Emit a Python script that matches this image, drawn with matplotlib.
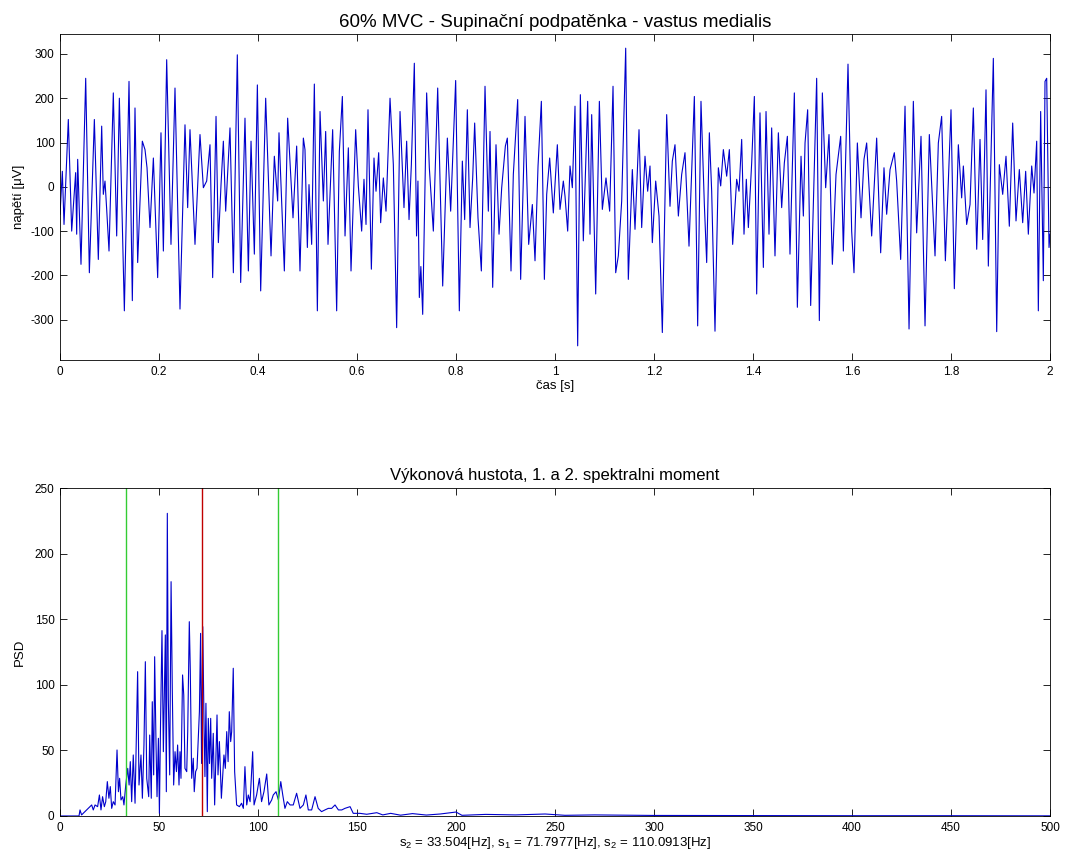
import numpy as np
import matplotlib
matplotlib.use("Agg")
import matplotlib.pyplot as plt

plt.rcParams['font.family'] = ['Liberation Sans', 'DejaVu Sans']
plt.rcParams['mathtext.fontset'] = 'custom'
plt.rcParams['mathtext.rm'] = 'Liberation Sans'
plt.rcParams['mathtext.it'] = 'Liberation Sans'
plt.rcParams['axes.unicode_minus'] = False

# EMG signal, peaks and troughs (time [s], voltage [uV])
sig_pts = [
    (0.000, -62), (0.0047, 35), (0.0081, -85), (0.0168, 152), (0.0236, -100), (0.0316, 32),
    (0.0337, -107), (0.0357, 62), (0.0424, -175), (0.0519, 245), (0.0593, -194), (0.0694, 152),
    (0.0774, -164), (0.0842, 137), (0.0875, -17), (0.0909, 13), (0.0943, -51), (0.0990, -145),
    (0.1077, 212), (0.1145, -111), (0.1199, 200), (0.1300, -280), (0.1394, 238), (0.1461, -257),
    (0.1515, 178), (0.1569, -171), (0.1663, 103), (0.1717, 84), (0.1758, 43), (0.1818, -92),
    (0.1886, 65), (0.1973, -205), (0.2040, 122), (0.2088, -145), (0.2155, 287), (0.2242, -130),
    (0.2323, 223), (0.2424, -276), (0.2525, 140), (0.2579, -47), (0.2626, 129), (0.2727, -130),
    (0.2828, 118), (0.2896, -2), (0.2963, 13), (0.3030, 95), (0.3084, -205), (0.3152, 159),
    (0.3199, -126), (0.3253, 5), (0.3300, 103), (0.3347, -55), (0.3434, 133), (0.3502, -194),
    (0.3582, 298), (0.3650, -216), (0.3737, 155), (0.3805, -190), (0.3859, 103), (0.3926, -152),
    (0.3987, 230), (0.4054, -235), (0.4155, 200), (0.4263, -156), (0.4330, 69), (0.4397, -32),
    (0.4424, 122), (0.4532, -190), (0.4599, 155), (0.4707, -70), (0.4781, 92), (0.4848, -190),
    (0.4916, 110),
    (0.4949, 84), (0.4997, -137), (0.5030, 5), (0.5084, -130), (0.5138, 232), (0.5199, -280),
    (0.5253, 170), (0.5320, -32), (0.5367, 125), (0.5414, -130), (0.5508, 129), (0.5589, -280),
    (0.5643, 80), (0.5704, 204), (0.5758, -111), (0.5825, 88), (0.5879, -190), (0.5973, 129),
    (0.6027, 2), (0.6094, -100), (0.6141, 17), (0.6182, -85), (0.6222, 174), (0.6290, -186),
    (0.6343, 65), (0.6384, -10), (0.6438, 77), (0.6478, -81), (0.6532, 20), (0.6586, -55),
    (0.6667, 200), (0.6734, 50), (0.6801, -318), (0.6869, 170), (0.6949, -47), (0.7003, 103),
    (0.7051, -74), (0.7098, 50), (0.7158, 279), (0.7203, -111), (0.7231, 13), (0.7259, -250),
    (0.7290, -180), (0.7327, -288), (0.7407, 212), (0.7461, 43), (0.7542, -100), (0.7630, 223),
    (0.7731, -224), (0.7825, 110), (0.7892, -55), (0.7993, 240), (0.8067, -280), (0.8128, 58),
    (0.8175, -74), (0.8229, 174), (0.8283, -92), (0.8337, 20), (0.8377, 144), (0.8444, -70),
    (0.8512, -190), (0.8586, 227), (0.8653, -55), (0.8687, 125), (0.8741, -227), (0.8808, 95),
    (0.8869, -107), (0.8923, -2), (0.8997, 92), (0.9037, 110), (0.9111, -190), (0.9158, 28),
    (0.9246, 197), (0.9306, -209), (0.9394, 159), (0.9468, -130), (0.9542, -40), (0.9596, -167),
    (0.9657, 47), (0.9724, 193), (0.9785, -209),
    (0.9832, -17), (0.9892, 65), (0.9966, -59), (1.0047, 95), (1.0101, -51), (1.0168, 13),
    (1.0202, -21), (1.0256, -100), (1.0303, 47), (1.0350, -2), (1.0404, 182), (1.0458, -359),
    (1.0512, 208), (1.0572, -122), (1.0660, 193), (1.0707, -107), (1.0741, 163), (1.0822, -242),
    (1.0896, 193), (1.0956, -51), (1.1030, 20), (1.1104, -55), (1.1172, 227), (1.1226, -194),
    (1.1279, -156), (1.1347, -32), (1.1428, 313), (1.1481, -209), (1.1562, 39), (1.1616, -96),
    (1.1697, 129), (1.1751, -92), (1.1818, 69), (1.1872, -10), (1.1919, 47), (1.1966, -126),
    (1.2034, 13), (1.2101, -66), (1.2168, -329), (1.2256, 163), (1.2323, -44), (1.2370, 58),
    (1.2424, 95), (1.2492, -66), (1.2559, 28), (1.2626, 77), (1.2707, -134), (1.2815, 204),
    (1.2882, -314), (1.2949, 193), (1.3017, -40), (1.3064, -171), (1.3118, 122), (1.3165, -10),
    (1.3232, -326), (1.3300, 43), (1.3347, 2), (1.3401, 84), (1.3468, 24), (1.3522, 84),
    (1.3589, -130), (1.3670, 17), (1.3717, -10), (1.3771, 107), (1.3818, -107), (1.3865, 17),
    (1.3906, -92), (1.3973, 54), (1.4027, 204), (1.4074, -242), (1.4141, 167), (1.4209, -182),
    (1.4263, 170), (1.4323, -107), (1.4377, 133), (1.4444, -156), (1.4512, 122), (1.4579, -47),
    (1.4633, 54), (1.4694, 114), (1.4747, -152), (1.4835, 212),
    (1.4896, -272), (1.4970, 69), (1.5017, -66), (1.5051, 99), (1.5104, 174), (1.5165, -268),
    (1.5286, 245), (1.5340, -302), (1.5401, 212), (1.5468, -2), (1.5535, 118), (1.5603, -175),
    (1.5677, 28), (1.5771, 114), (1.5825, -145), (1.5919, 277), (1.5993, -100), (1.6040, -194),
    (1.6108, 99), (1.6182, -70), (1.6242, 62), (1.6296, 99), (1.6397, -111), (1.6498, 110),
    (1.6579, -149), (1.6646, 43), (1.6700, -62), (1.6768, 39), (1.6855, 77), (1.6902, 13),
    (1.6983, -164), (1.7071, 182), (1.7152, -321), (1.7239, 193), (1.7306, -104), (1.7394, 114),
    (1.7475, -314), (1.7562, 118), (1.7677, -156), (1.7744, 99), (1.7811, 159), (1.7886, -167),
    (1.8000, 174), (1.8067, -230), (1.8148, 95), (1.8215, -25), (1.8249, 47), (1.8316, -85),
    (1.8384, -40), (1.8451, 178), (1.8519, -141), (1.8586, 107), (1.8640, -119), (1.8707, 219),
    (1.8754, -179), (1.8855, 290), (1.8923, -327), (1.8976, 50), (1.9044, -17), (1.9111, 69),
    (1.9178, -89), (1.9246, 144), (1.9313, -77), (1.9380, 39), (1.9448, -81), (1.9508, 35),
    (1.9562, -107), (1.9630, 47), (1.9677, -14), (1.9731, 103), (1.9764, -280), (1.9811, 170),
    (1.9865, -212), (1.9899, 238), (1.9933, 245), (1.9980, -137), (2.0000, -107),
]

# power spectral density (frequency [Hz], PSD)
psd_pts = [
    (0, 0), (9.6, 0), (10.1, 4.6), (10.9, 0.8), (12.6, 3.3), (14.3, 5.8), (16.0, 8.4), (16.8, 4.6),
    (17.7, 8.4), (19.0, 7.1), (19.9, 16), (20.7, 4.6), (21.5, 14.7), (22.4, 7.1), (23.1, 10.9),
    (23.9, 26.2), (24.7, 13.5), (25.4, 22.4), (26.1, 5.8), (26.9, 10.9), (27.8, 8.4), (28.8, 50.3),
    (29.5, 18.5), (30.1, 28.7), (30.8, 12.2), (31.7, 14.7), (32.3, 8.4), (33.2, 23.6), (34.2, 36.3),
    (34.9, 23.6), (35.5, 41.4), (36.2, 10.9), (37.0, 46.5), (37.9, 9.7), (39.2, 110), (39.9, 23.6),
    (40.9, 46.5), (41.6, 13.5), (42.4, 54.1), (43.1, 117.6), (43.8, 28.7), (44.8, 14.7), (45.3, 61.7),
    (46.1, 13.5), (46.6, 87.1), (47.3, 31.3), (47.8, 121.4), (48.5, 54.1), (49.0, 14.7), (49.7, 59.2),
    (50.2, 2), (50.8, 73.2), (51.5, 141.3), (52.2, 49), (53.2, 138), (53.7, 18.5), (54.2, 230.7),
    (54.7, 89.7), (55.4, 31.3), (56.1, 178.6), (56.7, 97.3), (57.4, 23.6), (58.1, 49), (58.8, 33.8),
    (59.4, 54.1), (60.1, 23.6), (60.6, 49), (61.1, 28.7), (61.9, 107.5), (62.5, 92.2), (63.1, 36.3),
    (64.0, 33.8), (64.5, 64.3), (65.3, 148.1), (65.8, 111.3), (66.5, 28.7), (67.3, 44), (67.8, 18.5),
    (68.5, 33.8), (69.2, 36.3), (69.9, 61.7), (70.4, 79.5), (71.0, 139.2), (71.5, 40), (72.1, 144.3),
    (72.7, 74.4), (73.2, 30), (73.7, 85.9), (74.4, 3.3), (74.9, 74.4), (75.5, 40), (76.1, 74.4),
    (76.6, 28.7), (77.4, 63), (78.1, 8.4), (79.3, 77), (79.8, 31.3), (80.5, 56.7), (81.5, 13.5),
    (82.8, 46.5), (83.5, 36.3), (84.2, 64.3), (84.9, 41.4), (85.5, 79.5), (86.2, 56.7), (86.7, 64.3),
    (87.5, 112.6), (88.2, 33.8), (89.2, 8.4), (90.6, 7.1), (91.7, 9.7), (92.6, 5.8), (93.4, 37.6),
    (94.3, 8.4), (95.1, 16), (96.0, 10.9), (97.3, 49), (98.0, 8.4), (99.3, 16), (100.7, 28.7),
    (101.8, 10.9), (103.0, 18.5), (104.4, 32), (105.5, 8.4), (106.9, 12.2), (107.7, 16), (109.1, 18.5),
    (110.3, 12.2), (111.5, 26.2), (112.5, 16), (113.6, 5.8), (114.8, 10.9), (116.2, 8.4), (117.8, 8.4),
    (119.5, 17.3), (121.2, 5.8), (122.9, 8.4), (124.2, 16), (125.4, 4.6), (127.1, 4.6), (128.8, 14.7),
    (130.4, 5.8), (132.1, 3.3), (133.8, 4.6), (135.5, 5.8), (137.2, 5.8), (138.9, 8.4), (140.6, 4.6),
    (142.3, 4.6), (143.9, 5.8), (146.5, 7.1), (148.1, 2), (151.5, 2), (154.9, 1.3), (160, 2.5),
    (163, 0.8), (167, 2), (172, 0.6), (178, 1.8), (185, 0.7), (192, 1.5), (200, 3), (203, 0.5),
    (215, 1.2), (230, 0.8), (245, 1.5), (255, 0.5), (270, 0.8), (300, 0.4), (350, 0.3), (400, 0.2),
    (450, 0.2), (500, 0.1),
]

# spectral moments [Hz]
s2_low = 33.504
s1 = 71.7977
s2_high = 110.0913

sig_t, sig_v = np.array(sig_pts).T
psd_f, psd_v = np.array(psd_pts).T

fig = plt.figure(figsize=(10.89, 8.61), dpi=100)
ax1 = fig.add_axes([0.0551, 0.5819, 0.9091, 0.3786])
ax2 = fig.add_axes([0.0551, 0.0523, 0.9091, 0.3809])

ax1.plot(sig_t, sig_v, color='#0000cc', lw=0.8)
ax1.set_xlim(0, 2)
ax1.set_ylim(-391, 345)
ax1.set_xticks(np.arange(0, 2.01, 0.2))
ax1.set_xticklabels(['0', '0.2', '0.4', '0.6', '0.8', '1', '1.2', '1.4', '1.6', '1.8', '2'])
ax1.set_yticks([-300, -200, -100, 0, 100, 200, 300])
ax1.set_title('60% MVC - Supinační podpatěnka - vastus medialis', fontsize=13.5, pad=5)
ax1.set_xlabel('čas [s]', fontsize=9.5, labelpad=2)
ax1.set_ylabel('napětí [μV]', fontsize=9.5, labelpad=4)

ax2.plot(psd_f, psd_v, color='#0000cc', lw=0.8)
ax2.axvline(s2_low, color='#33cc33', lw=1)
ax2.axvline(s1, color='#c00000', lw=1)
ax2.axvline(s2_high, color='#33cc33', lw=1)
ax2.set_xlim(0, 500)
ax2.set_ylim(0, 250)
ax2.set_xticks(np.arange(0, 501, 50))
ax2.set_yticks(np.arange(0, 251, 50))
ax2.set_title('Výkonová hustota, 1. a 2. spektralni moment', fontsize=12, pad=6)
ax2.set_xlabel('s$_2$ = %.3f[Hz], s$_1$ = %.4f[Hz], s$_2$ = %.4f[Hz]' % (s2_low, s1, s2_high),
               fontsize=9.5, labelpad=1)
ax2.set_ylabel('PSD', fontsize=9.5, labelpad=6)

for ax in (ax1, ax2):
    ax.tick_params(direction='in', length=5, width=0.6, top=True, right=True, labelsize=8.5, pad=4)
    for sp in ax.spines.values():
        sp.set_linewidth(0.6)

plt.savefig('out.png', dpi=100)
